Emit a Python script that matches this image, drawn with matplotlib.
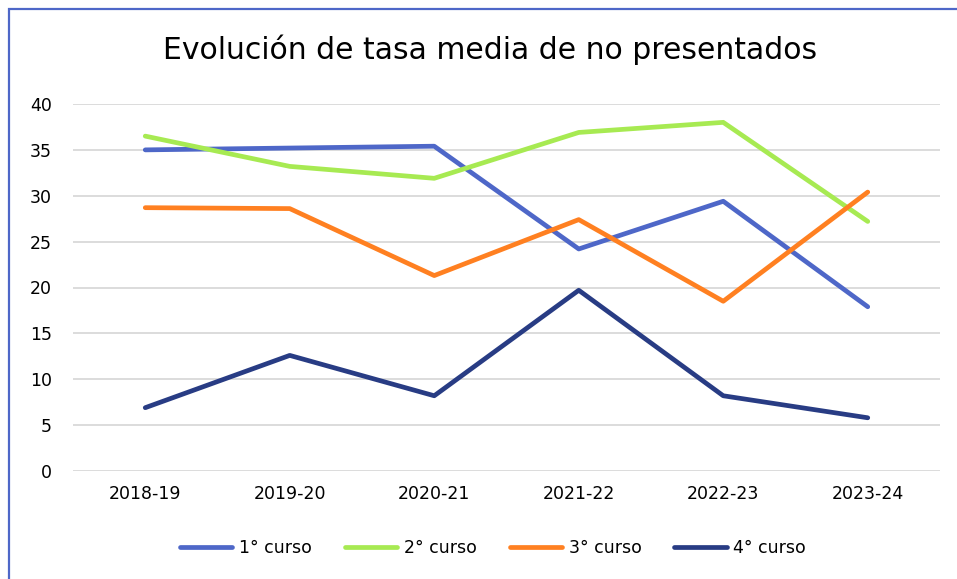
import matplotlib.pyplot as plt
from matplotlib.patches import Rectangle

# Data
years = ['2018-19', '2019-20', '2020-21', '2021-22', '2022-23', '2023-24']
curso1 = [35.0, 35.2, 35.4, 24.2, 29.4, 17.9]
curso2 = [36.5, 33.2, 31.9, 36.9, 38.0, 27.2]
curso3 = [28.7, 28.6, 21.3, 27.4, 18.5, 30.4]
curso4 = [6.9, 12.6, 8.2, 19.7, 8.2, 5.8]
labels = ['1° curso', '2° curso', '3° curso', '4° curso']
colors = ['#4E67C8', '#A7EA52', '#FF8021', '#283C84']

plt.rcParams['font.family'] = ['DejaVu Sans']

W, H = 957, 579
fig = plt.figure(figsize=(W / 100, H / 100), dpi=100)

# Blue frame of the chart area (cropped at right and bottom)
fig.patches.append(Rectangle((9 / W, -0.1), 1.2, (H - 9) / H + 0.1,
                             transform=fig.transFigure, fill=False,
                             edgecolor='#4E67C8', linewidth=1.6))

ax = fig.add_axes([73 / W, 108 / H, (940 - 73) / W, (471 - 104) / H])
x = list(range(len(years)))
for ys, lab, c in zip([curso1, curso2, curso3, curso4], labels, colors):
    ax.plot(x, ys, color=c, linewidth=3.4, label=lab, solid_capstyle='round',
            solid_joinstyle='round')

ax.set_xlim(-0.5, 5.5)
ax.set_ylim(0, 40)
ax.set_yticks(range(0, 41, 5))
ax.set_xticks(x)
ax.set_xticklabels(years)
ax.tick_params(length=0, labelsize=12.5, colors='#000000', pad=10)
ax.tick_params(axis='y', pad=15)
for s in ax.spines.values():
    s.set_visible(False)
ax.grid(axis='y', color='#D9D9D9', linewidth=1.3)
ax.set_axisbelow(True)

fig.text(490 / W, 1 - 50 / H, 'Evolución de tasa media de no presentados',
         ha='center', va='center', fontsize=21.5)

fig.legend(loc='center', bbox_to_anchor=(493 / W, 1 - 548 / H), ncol=4,
           frameon=False, fontsize=12.5, handlelength=3.0, handletextpad=0.4,
           columnspacing=1.9)

fig.savefig('out.png', dpi=100)
